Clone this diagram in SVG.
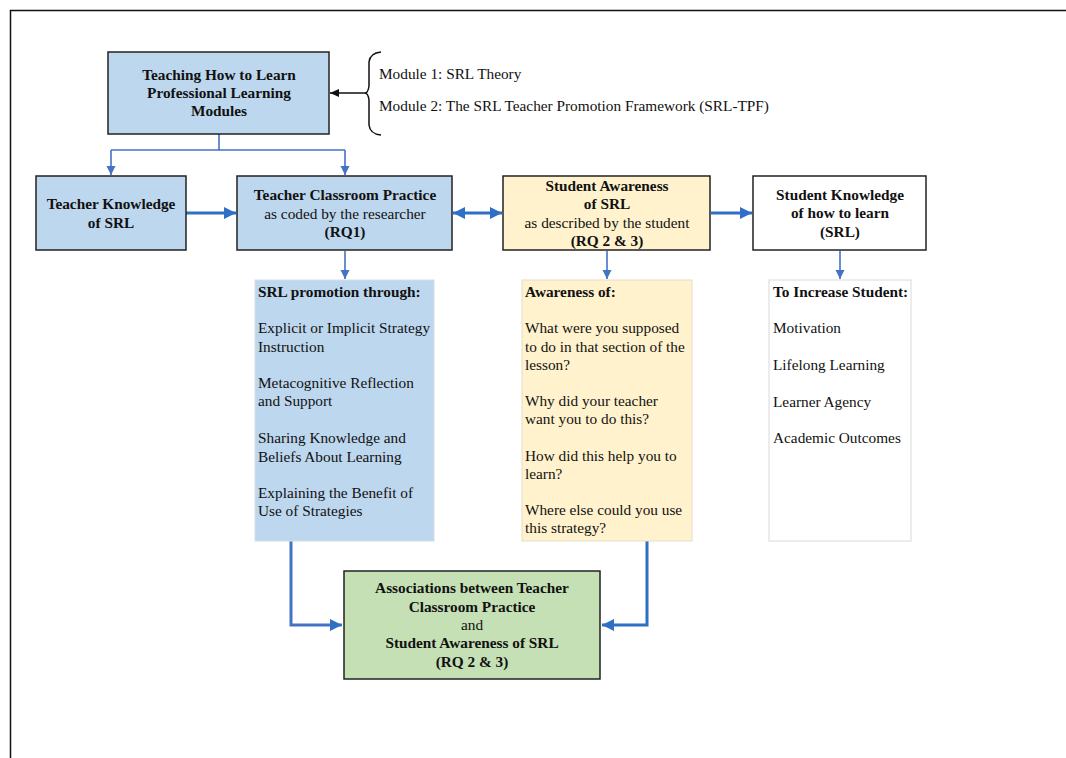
<svg xmlns="http://www.w3.org/2000/svg" width="1066" height="758" viewBox="0 0 1066 758">
<style>
text{font-family:"Liberation Serif","Times New Roman",serif;font-size:15.3px;fill:#111}
.b{font-weight:bold}
.c{text-anchor:middle}
.box{stroke:#222;stroke-width:1.5}
.blue{fill:#BDD7EE}
.yel{fill:#FFF2CC}
.grn{fill:#C5E0B4}
.thin{fill:none;stroke:#4472C4;stroke-width:1.6}
.thick{fill:none;stroke:#2F6FC6;stroke-width:3}
</style>
<defs>
<marker id="ah" markerUnits="userSpaceOnUse" markerWidth="10" markerHeight="10" refX="9" refY="5" orient="auto">
<path d="M0,0.5 L9,5 L0,9.5 Z" fill="#4472C4"/>
</marker>
<marker id="ahT" markerUnits="userSpaceOnUse" markerWidth="13" markerHeight="13" refX="12" refY="6.5" orient="auto">
<path d="M0,0.5 L12,6.5 L0,12.5 Z" fill="#2F6FC6"/>
</marker>
<marker id="ahTs" markerUnits="userSpaceOnUse" markerWidth="13" markerHeight="13" refX="0" refY="6.5" orient="auto">
<path d="M12,0.5 L0,6.5 L12,12.5 Z" fill="#2F6FC6"/>
</marker>
<marker id="ahK" markerUnits="userSpaceOnUse" markerWidth="10" markerHeight="10" refX="9" refY="5" orient="auto">
<path d="M0,1 L9,5 L0,9 Z" fill="#111"/>
</marker>
</defs>
<rect x="0" y="0" width="1066" height="758" fill="#fff"/>
<rect x="10.5" y="10.5" width="1080" height="770" fill="none" stroke="#111" stroke-width="1.5"/>

<g id="connectors">
<path class="thin" d="M219,134 V150 M111,150 H345" />
<path class="thin" d="M111,150 V175" marker-end="url(#ah)"/>
<path class="thin" d="M345,150 V175" marker-end="url(#ah)"/>
<path class="thick" d="M186,213 H236" marker-end="url(#ahT)"/>
<path class="thick" d="M453,213 H502" marker-start="url(#ahTs)" marker-end="url(#ahT)"/>
<path class="thick" d="M711,213 H752" marker-end="url(#ahT)"/>
<path class="thin" d="M345,251 V279" marker-end="url(#ah)"/>
<path class="thin" d="M607,251 V279" marker-end="url(#ah)"/>
<path class="thin" d="M840,251 V279" marker-end="url(#ah)"/>
<path class="thick" style="stroke:#4472C4" d="M291,541 V625 H342" marker-end="url(#ahT)"/>
<path class="thick" d="M647,541 V625 H602" marker-end="url(#ahT)"/>
<path fill="none" stroke="#111" stroke-width="1.5" d="M366,93 H330" marker-end="url(#ahK)"/>
<path fill="none" stroke="#111" stroke-width="1.5" d="M381,52 Q370,53 369,62 V86 Q368,93 365,93 Q368,93 369,100 V125 Q370,134 381,135"/>
</g>

<g id="modules">
<rect class="box blue" x="108" y="52" width="221" height="82"/>
<text class="b c" x="219" y="80">Teaching How to Learn</text>
<text class="b c" x="219" y="98">Professional Learning</text>
<text class="b c" x="219" y="116">Modules</text>
</g>

<g id="module-list">
<text x="379" y="79">Module 1: SRL Theory</text>
<text x="379" y="111">Module 2: The SRL Teacher Promotion Framework (SRL-TPF)</text>
</g>

<g id="teacher-knowledge">
<rect class="box blue" x="36" y="176" width="150" height="74"/>
<text class="b c" x="111" y="209">Teacher Knowledge</text>
<text class="b c" x="111" y="228">of SRL</text>
</g>

<g id="teacher-practice">
<rect class="box blue" x="237" y="176" width="215" height="74"/>
<text class="b c" x="345" y="200">Teacher Classroom Practice</text>
<text class="c" x="345" y="219">as coded by the researcher</text>
<text class="b c" x="345" y="237">(RQ1)</text>
</g>

<g id="student-awareness">
<rect class="box yel" x="503" y="176" width="207" height="74"/>
<text class="b c" x="607" y="191">Student Awareness</text>
<text class="b c" x="607" y="209">of SRL</text>
<text class="c" x="607" y="228">as described by the student</text>
<text class="b c" x="607" y="246">(RQ 2 &amp; 3)</text>
</g>

<g id="student-knowledge">
<rect class="box" fill="#fff" x="753" y="176" width="173" height="74"/>
<text class="b c" x="840" y="200">Student Knowledge</text>
<text class="b c" x="840" y="218">of how to learn</text>
<text class="b c" x="840" y="237">(SRL)</text>
</g>

<g id="srl-promotion">
<rect class="blue" x="255" y="280" width="179" height="261" stroke="#D3DEEA" stroke-width="1"/>
<text class="b" x="258" y="297">SRL promotion through:</text>
<text x="258" y="333">Explicit or Implicit Strategy</text>
<text x="258" y="352">Instruction</text>
<text x="258" y="388">Metacognitive Reflection</text>
<text x="258" y="406">and Support</text>
<text x="258" y="443">Sharing Knowledge and</text>
<text x="258" y="462">Beliefs About Learning</text>
<text x="258" y="498">Explaining the Benefit of</text>
<text x="258" y="516">Use of Strategies</text>
</g>

<g id="awareness-of">
<rect class="yel" x="522" y="280" width="170" height="261" stroke="#E4DECB" stroke-width="1"/>
<text class="b" x="525" y="297">Awareness of:</text>
<text x="525" y="333">What were you supposed</text>
<text x="525" y="352">to do in that section of the</text>
<text x="525" y="370">lesson?</text>
<text x="525" y="406">Why did your teacher</text>
<text x="525" y="424">want you to do this?</text>
<text x="525" y="461">How did this help you to</text>
<text x="525" y="479">learn?</text>
<text x="525" y="515">Where else could you use</text>
<text x="525" y="533">this strategy?</text>
</g>

<g id="increase-student">
<rect x="769" y="280" width="142" height="261" fill="#fff" stroke="#DADADA" stroke-width="1"/>
<text class="b" x="773" y="297">To Increase Student:</text>
<text x="773" y="333">Motivation</text>
<text x="773" y="370">Lifelong Learning</text>
<text x="773" y="407">Learner Agency</text>
<text x="773" y="443">Academic Outcomes</text>
</g>

<g id="associations">
<rect class="box grn" x="344" y="571" width="256" height="108" stroke-width="2"/>
<text class="b c" x="472" y="593">Associations between Teacher</text>
<text class="b c" x="472" y="612">Classroom Practice</text>
<text class="c" x="472" y="630">and</text>
<text class="b c" x="472" y="648">Student Awareness of SRL</text>
<text class="b c" x="472" y="667">(RQ 2 &amp; 3)</text>
</g>
</svg>
